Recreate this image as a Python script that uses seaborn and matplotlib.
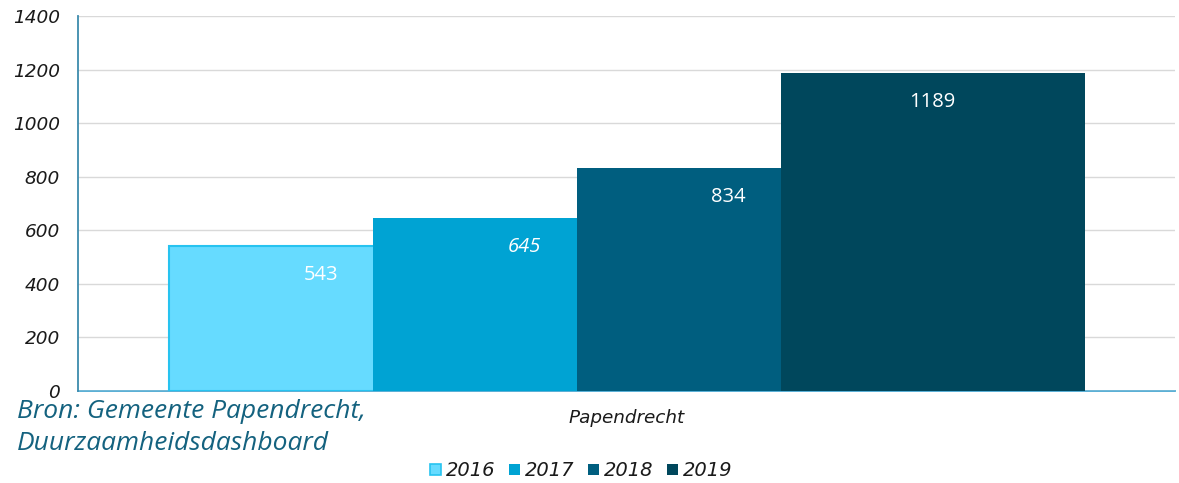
import matplotlib
matplotlib.use("Agg")
import matplotlib.pyplot as plt
import seaborn as sns
import pandas as pd

# Data
years = ["2016", "2017", "2018", "2019"]
values = [543, 645, 834, 1189]
category = "Papendrecht"
colors = ["#66DBFF", "#00A3D3", "#005E7F", "#00475C"]
label_italic = [False, True, False, False]

sns.set_theme(style="white")
plt.rcParams["font.family"] = ["DejaVu Sans"]

df = pd.DataFrame({
    "pos": list(range(len(years))),
    "value": values,
    "year": years,
})

fig = plt.figure(figsize=(11.79, 4.83), dpi=100)
ax = fig.add_axes([78 / 1179, 92 / 483, 1097 / 1179, 375 / 483])

# Overlapping columns, each drawn over the previous one
sns.barplot(
    data=df, x="pos", y="value", hue="year", hue_order=years,
    palette=colors, native_scale=True, dodge=False, width=1.49,
    linewidth=0, saturation=1, legend=True, ax=ax,
)

# Outline on the first series
for p in ax.containers[0]:
    p.set_edgecolor("#27C3F0")
    p.set_linewidth(1.5)

# Value labels inside the columns
for cont, val, it in zip(ax.containers, values, label_italic):
    for p in cont:
        cx = p.get_x() + p.get_width() / 2
        ax.annotate(
            f"{val}", xy=(cx, p.get_height()), xytext=(0, -21),
            textcoords="offset points", ha="center", va="center",
            color="white", fontsize=14.5, family="Open Sans",
            style="italic" if it else "normal",
        )

ax.set_ylim(0, 1400)
ax.set_yticks(range(0, 1401, 200))
ax.set_xlim(-1.189, 4.188)
ax.set_xticks([1.5])
ax.set_xticklabels([category], style="italic", fontsize=13.2, color="#1a1a1a")
ax.set_xlabel("")
ax.set_ylabel("")

ax.yaxis.grid(True, color="#D9D9D9", linewidth=1)
ax.set_axisbelow(True)
ax.tick_params(axis="y", length=0, pad=13, labelsize=13.3, labelcolor="#1a1a1a")
ax.tick_params(axis="x", length=0, pad=13)
for lab in ax.get_yticklabels():
    lab.set_style("italic")

for side in ("top", "right"):
    ax.spines[side].set_visible(False)
ax.spines["left"].set_color("#3D8BAD")
ax.spines["left"].set_linewidth(1.3)
ax.spines["bottom"].set_color("#4AA8D2")
ax.spines["bottom"].set_linewidth(1.3)
ax.spines["bottom"].set_zorder(0.5)

# Legend along the bottom
handles, labels = ax.get_legend_handles_labels()
if ax.legend_:
    ax.legend_.remove()
leg = fig.legend(
    handles, labels, loc="center", bbox_to_anchor=(581 / 1179, 1 - 471 / 483),
    ncol=4, frameon=False, handlelength=0.55, handleheight=0.55,
    handletextpad=0.25, columnspacing=0.72,
    prop={"style": "italic", "size": 14},
)
for h in leg.legend_handles:
    h.set_linewidth(0)
leg.legend_handles[0].set_edgecolor("#27C3F0")
leg.legend_handles[0].set_linewidth(1.2)
for t in leg.get_texts():
    t.set_color("#1a1a1a")

# Source note
for y, line in ((412, "Bron: Gemeente Papendrecht,"), (443, "Duurzaamheidsdashboard")):
    fig.text(17 / 1179, 1 - y / 483, line,
             family="Open Sans", style="italic", fontsize=19, color="#14627F",
             ha="left", va="center")

fig.savefig("out.png", dpi=100)
